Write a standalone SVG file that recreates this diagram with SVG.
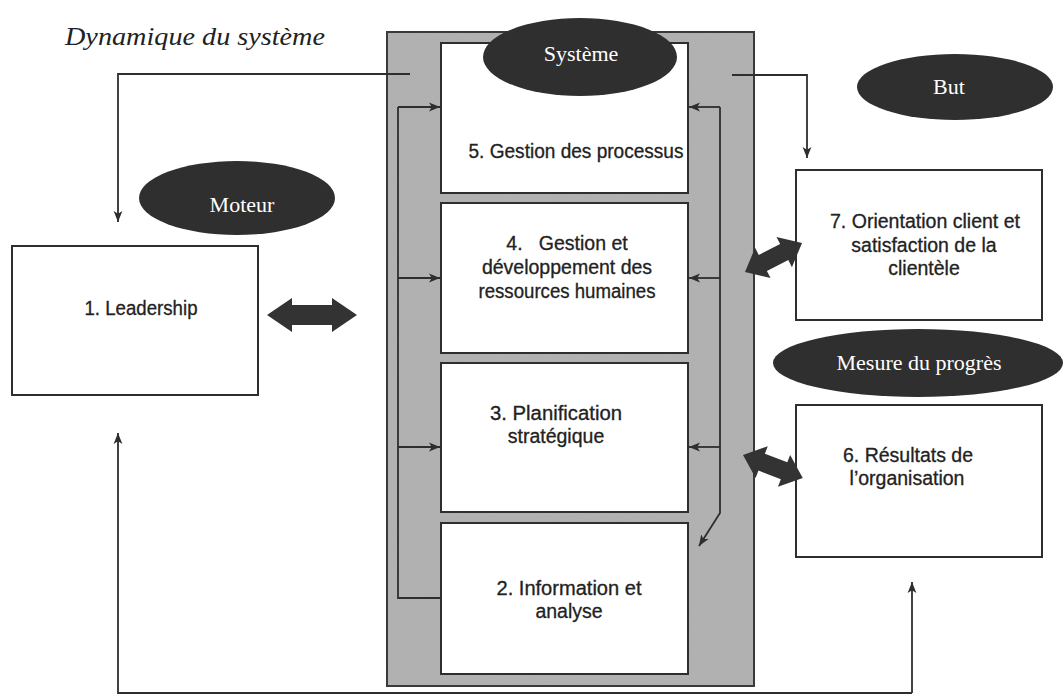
<svg xmlns="http://www.w3.org/2000/svg" width="1063" height="695" viewBox="0 0 1063 695">
<style>
.box{fill:#fff;stroke:#2e2e2e;stroke-width:2}
.oval{fill:#2f2f2f}
.lbl{font-family:"Liberation Sans",Arial,sans-serif;font-size:19.5px;fill:#222;stroke:#222;stroke-width:0.3;text-anchor:middle}
.olbl{font-family:"Liberation Serif","Times New Roman",serif;font-size:22px;fill:#fff;text-anchor:middle}
.ln{fill:none;stroke:#2e2e2e;stroke-width:1.8}
.blk{fill:#333}
</style>
<defs>
<marker id="ah" viewBox="0 0 10 10" refX="10" refY="5" markerWidth="11" markerHeight="11" markerUnits="userSpaceOnUse" orient="auto">
<path d="M0,1 L10,5 L0,9 L2.5,5 z" fill="#2e2e2e"/>
</marker>
<filter id="grain" x="0" y="0" width="100%" height="100%">
<feTurbulence type="fractalNoise" baseFrequency="0.9" numOctaves="2" seed="3" result="n"/>
<feColorMatrix in="n" type="matrix" values="0 0 0 0 0.45  0 0 0 0 0.45  0 0 0 0 0.45  2.4 0 0 0 -0.9" result="g"/>
<feComposite in="g" in2="SourceGraphic" operator="in" result="gc"/>
<feMerge><feMergeNode in="SourceGraphic"/><feMergeNode in="gc"/></feMerge>
</filter>
</defs>
<rect width="1063" height="695" fill="#fff"/>

<text x="65" y="45" font-family="Liberation Serif,'Times New Roman',serif" font-style="italic" font-size="25" fill="#222" textLength="260" lengthAdjust="spacingAndGlyphs">Dynamique du système</text>

<g id="systeme-panel">
<rect x="387" y="32" width="367" height="654" fill="#b0b0b0" filter="url(#grain)"/>
<rect x="387" y="32" width="367" height="654" fill="none" stroke="#3a3a3a" stroke-width="2"/>
</g>

<g id="n5"><rect class="box" x="441" y="43" width="247" height="150"/>
<text class="lbl" x="576" y="158" textLength="215" lengthAdjust="spacingAndGlyphs">5. Gestion des processus</text></g>

<g id="n4"><rect class="box" x="441" y="203" width="247" height="150"/>
<text class="lbl" x="567" y="250" xml:space="preserve">4.   Gestion et</text>
<text class="lbl" x="567" y="274">développement des</text>
<text class="lbl" x="567" y="298" textLength="177" lengthAdjust="spacingAndGlyphs">ressources humaines</text></g>

<g id="n3"><rect class="box" x="441" y="363" width="247" height="149"/>
<text class="lbl" x="556" y="420" textLength="132" lengthAdjust="spacingAndGlyphs">3. Planification</text>
<text class="lbl" x="556" y="443">stratégique</text></g>

<g id="n2"><rect class="box" x="441" y="523" width="247" height="151"/>
<text class="lbl" x="569" y="595" textLength="145" lengthAdjust="spacingAndGlyphs">2. Information et</text>
<text class="lbl" x="569" y="618">analyse</text></g>

<g id="systeme"><ellipse class="oval" cx="580" cy="57" rx="97" ry="39"/>
<text class="olbl" x="581" y="61" font-size="23">Système</text></g>

<g id="n1"><rect class="box" x="12" y="246" width="246" height="149"/>
<text class="lbl" x="141" y="315" font-size="18" textLength="113" lengthAdjust="spacingAndGlyphs">1. Leadership</text></g>

<g id="moteur"><ellipse class="oval" cx="237" cy="198" rx="98" ry="37"/>
<text class="olbl" x="242" y="212" font-size="23">Moteur</text></g>

<g id="but"><ellipse class="oval" cx="955" cy="87" rx="98" ry="33"/>
<text class="olbl" x="949" y="94" font-size="24">But</text></g>

<g id="n7"><rect class="box" x="796" y="170" width="246" height="150"/>
<text class="lbl" x="925" y="228" textLength="190" lengthAdjust="spacingAndGlyphs">7. Orientation client et</text>
<text class="lbl" x="924" y="252">satisfaction de la</text>
<text class="lbl" x="924" y="275">clientèle</text></g>

<g id="mesure"><ellipse class="oval" cx="918" cy="363" rx="145" ry="34"/>
<text class="olbl" x="919" y="370" font-size="23">Mesure du progrès</text></g>

<g id="n6"><rect class="box" x="796" y="405" width="246" height="152"/>
<text class="lbl" x="908" y="462">6. Résultats de</text>
<text class="lbl" x="907" y="485">l’organisation</text></g>

<g id="connectors">
<path class="ln" d="M410,74 H118 V222" marker-end="url(#ah)"/>
<path class="ln" d="M732,75 H807 V158" marker-end="url(#ah)"/>
<path class="ln" d="M912,693 H118 V433" marker-end="url(#ah)"/>
<path class="ln" d="M912,693 V582" marker-end="url(#ah)"/>
<path class="ln" d="M398,107 V598 H441"/>
<path class="ln" d="M398,107 H440" marker-end="url(#ah)"/>
<path class="ln" d="M398,278 H440" marker-end="url(#ah)"/>
<path class="ln" d="M398,447 H440" marker-end="url(#ah)"/>
<path class="ln" d="M720,107 V513 L699,546" marker-end="url(#ah)"/>
<path class="ln" d="M720,107 H689" marker-end="url(#ah)"/>
<path class="ln" d="M720,278 H689" marker-end="url(#ah)"/>
<path class="ln" d="M720,447 H689" marker-end="url(#ah)"/>
<path class="blk" transform="translate(267,315)" d="M0,0 L25,-17 L25,-10 L65,-10 L65,-17 L90,0 L65,17 L65,10 L25,10 L25,17 Z"/>
<path class="blk" transform="translate(745,272) rotate(-27)" d="M0,0 L20,-17 L20,-9 L44,-9 L44,-17 L64,0 L44,17 L44,9 L20,9 L20,17 Z"/>
<path class="blk" transform="translate(743,455) rotate(21)" d="M0,0 L20,-17 L20,-9 L44,-9 L44,-17 L64,0 L44,17 L44,9 L20,9 L20,17 Z"/>
</g>
</svg>
